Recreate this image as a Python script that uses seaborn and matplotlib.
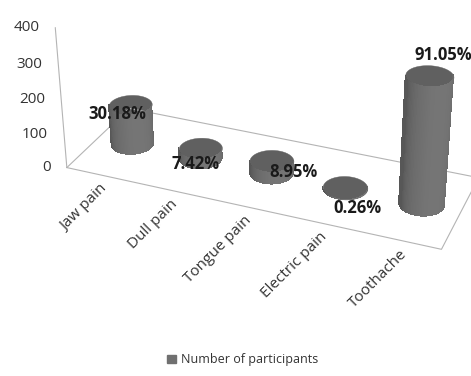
import numpy as np
import matplotlib
matplotlib.use("Agg")
import matplotlib.pyplot as plt
import seaborn as sns
from matplotlib.patches import Patch
from mpl_toolkits.mplot3d import proj3d
from mpl_toolkits.mplot3d.art3d import Poly3DCollection

# Survey results: number of participants reporting each kind of pain
categories = ["Jaw pain", "Dull pain", "Tongue pain", "Electric pain", "Toothache"]
participants = [118, 29, 35, 1, 356]
total_respondents = 391
z_ticks = [0, 100, 200, 300, 400]
series_name = "Number of participants"

sns.set_theme(style="white")
plt.rcParams["font.family"] = ["Open Sans", "DejaVu Sans"]

bar_gray = sns.color_palette(["#707070"])[0]
top_gray = "#606060"
edge_gray = "#b4b4b4"
text_gray = "#333333"

elev, azim = 28, -68
fig = plt.figure(figsize=(4.71, 3.76), dpi=100)
ax = fig.add_axes([0.066, 0.235, 1.0, 0.95], projection="3d",
                  proj_type="persp", focal_length=0.7)
box = (5.15, 1.8, 2.05)
ax.set_box_aspect(box, zoom=1.23)
ax.view_init(elev=elev, azim=azim)
ax.set_axis_off()
ax.set_xlim(-0.5, 4.5)
ax.set_ylim(0, 1)
ax.set_zlim(0, 400)

# floor outline and vertical value axis
ax.plot([-0.5, 4.5, 4.5, -0.5, -0.5], [0, 0, 1, 1, 0], [0, 0, 0, 0, 0],
        color=edge_gray, lw=0.8, clip_on=False)
ax.plot([-0.5, -0.5], [0, 0], [0, 400], color=edge_gray, lw=0.8, clip_on=False)

# cylinders: only the camera-facing half of the side wall plus the top cap
radius = 0.29                       # in box units
rx = radius / (box[0] / 5.0)
ry = radius / (box[1] / 1.0)
y_center = 0.5
cam = np.deg2rad(azim)
theta = np.linspace(cam - np.pi / 2 - 0.08, cam + np.pi / 2 + 0.08, 49)
light_dir = cam + np.deg2rad(25)
ring = np.linspace(0, 2 * np.pi, 97)
n_rows = 8


def shade(t):
    return 0.34 + 0.12 * np.clip(np.cos(t - light_dir), 0, None) ** 0.7


for i, h in enumerate(participants):
    zz = np.linspace(0, h, n_rows + 1)
    X = np.tile(i + rx * np.cos(theta), (n_rows + 1, 1))
    Y = np.tile(y_center + ry * np.sin(theta), (n_rows + 1, 1))
    Z = np.repeat(zz[:, None], len(theta), axis=1)
    mid = 0.5 * (theta[:-1] + theta[1:])
    lum = shade(mid)
    fc = np.ones((n_rows, len(mid), 4))
    fc[:, :, :3] = lum[None, :, None]
    side = ax.plot_surface(X, Y, Z, facecolors=fc, shade=False, linewidth=0,
                           antialiased=False, rstride=1, cstride=1)
    side.set_clip_on(False)
    top = list(zip(i + rx * np.cos(ring), y_center + ry * np.sin(ring),
                   np.full_like(ring, h)))
    cap = Poly3DCollection([top], facecolor=top_gray, edgecolor=top_gray,
                           linewidth=0.3)
    cap.set_clip_on(False)
    ax.add_collection3d(cap)

fig.canvas.draw()
M = ax.get_proj()


def screen(x, y, z):
    xs, ys, _ = proj3d.proj_transform(x, y, z, M)
    return float(xs), float(ys)


# percentage labels on each cylinder
label_offsets = [(-13, -9), (-5, -16), (22, -11), (12, -20), (14, 21)]
for i, (h, off) in enumerate(zip(participants, label_offsets)):
    pct = 100.0 * h / total_respondents
    ax.annotate(f"{pct:.2f}%", xy=screen(i, y_center, h), xycoords="data",
                xytext=off, textcoords="offset pixels", ha="center", va="center",
                fontsize=12, fontweight="bold", color="#1a1a1a", zorder=100,
                annotation_clip=False)

# category labels along the front edge
for i, name in enumerate(categories):
    ax.annotate(name, xy=screen(i, 0, 0), xycoords="data", xytext=(4, -12),
                textcoords="offset pixels", ha="right", va="center", rotation=45,
                rotation_mode="anchor", fontsize=11, color=text_gray, zorder=100,
                annotation_clip=False)

# value axis tick labels
for v in z_ticks:
    ax.annotate(f"{v}", xy=screen(-0.5, 0, v), xycoords="data", xytext=(-16, 0),
                textcoords="offset pixels", ha="right", va="center",
                fontsize=11, color=text_gray, zorder=100, annotation_clip=False)

fig.legend(handles=[Patch(facecolor="#707070", edgecolor="#707070", label=series_name)],
           loc="center", bbox_to_anchor=(0.515, 0.043), frameon=False,
           fontsize=9, handlelength=0.7, handleheight=0.7, handletextpad=0.4,
           labelcolor=text_gray)

fig.savefig("out.png", dpi=100)
